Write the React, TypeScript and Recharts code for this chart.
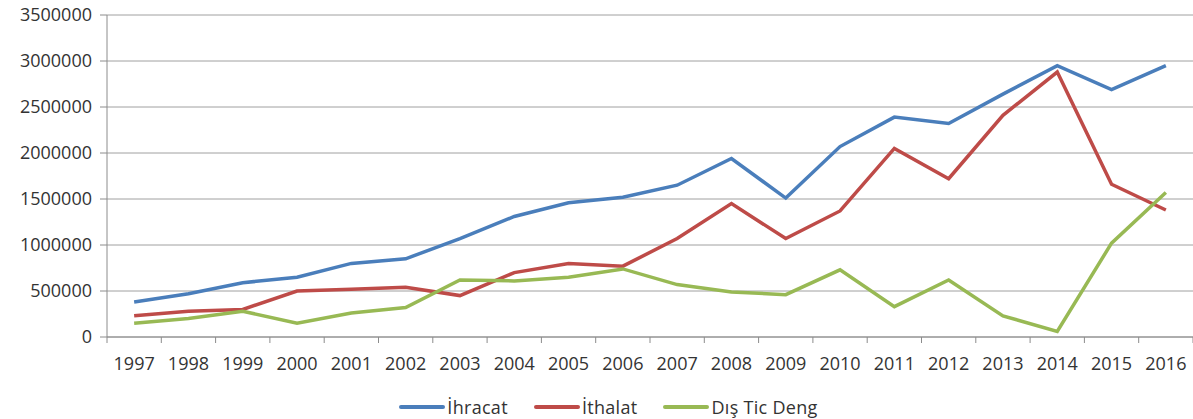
import { LineChart, Line, XAxis, YAxis, CartesianGrid, Legend } from "recharts";

const years = [
  "1997", "1998", "1999", "2000", "2001", "2002", "2003", "2004", "2005", "2006",
  "2007", "2008", "2009", "2010", "2011", "2012", "2013", "2014", "2015", "2016",
];

const ihracat = [
  380000, 470000, 590000, 650000, 800000, 850000, 1070000, 1310000, 1460000, 1520000,
  1650000, 1940000, 1510000, 2070000, 2390000, 2320000, 2640000, 2950000, 2690000, 2950000,
];

const ithalat = [
  230000, 280000, 300000, 500000, 520000, 540000, 450000, 700000, 800000, 770000,
  1070000, 1450000, 1070000, 1370000, 2050000, 1720000, 2410000, 2880000, 1660000, 1380000,
];

const disTicDeng = [
  150000, 200000, 280000, 150000, 260000, 320000, 620000, 610000, 650000, 740000,
  570000, 490000, 460000, 730000, 330000, 620000, 230000, 60000, 1020000, 1570000,
];

const yTicks = [0, 500000, 1000000, 1500000, 2000000, 2500000, 3000000, 3500000];

const series = [
  { key: "ihracat", name: "İhracat", color: "#4a7ebb" },
  { key: "ithalat", name: "İthalat", color: "#be4b48" },
  { key: "disTicDeng", name: "Dış Tic Deng", color: "#98b954" },
];

const data = years.map((year, i) => ({
  i,
  year,
  ihracat: ihracat[i],
  ithalat: ithalat[i],
  disTicDeng: disTicDeng[i],
}));

// ticks at category centres (labels) and boundaries (tick marks), like Excel
const xTicks: number[] = [];
for (let k = 0; k <= years.length * 2; k++) xTicks.push(k / 2 - 0.5);

const FONT = "'Open Sans', sans-serif";
const TEXT = "#333333";
const AXIS = "#8c8c8c";

function XTick(props: any) {
  const { x, y, payload } = props;
  const v = payload.value;
  if (Number.isInteger(v)) {
    return (
      <text x={x} y={y + 27} textAnchor="middle" fill={TEXT} fontSize={18} fontFamily={FONT}>
        {years[v]}
      </text>
    );
  }
  return <line x1={x} x2={x} y1={y - 6} y2={y} stroke={AXIS} strokeWidth={1} />;
}

function LegendContent() {
  return (
    <div
      style={{
        display: "flex",
        justifyContent: "center",
        alignItems: "center",
        height: 24,
        paddingLeft: 50,
        fontFamily: FONT,
        fontSize: 18,
        color: TEXT,
      }}
    >
      {series.map((s) => (
        <div key={s.key} style={{ display: "flex", alignItems: "center", marginRight: 26 }}>
          <svg width={46} height={8}>
            <line x1={2} x2={44} y1={4} y2={4} stroke={s.color} strokeWidth={4} strokeLinecap="round" />
          </svg>
          <span style={{ marginLeft: 2, letterSpacing: 0.3 }}>{s.name}</span>
        </div>
      ))}
    </div>
  );
}

export default function App() {
  return (
    <div style={{ position: "absolute", left: 0, top: 0, background: "#fff" }}>
      <LineChart width={1193} height={419} data={data} margin={{ top: 15, right: 0, bottom: 0, left: 0 }}>
        <CartesianGrid vertical={false} stroke="#a0a0a0" />
        <XAxis
          dataKey="i"
          type="number"
          domain={[-0.5, 19.5]}
          ticks={xTicks}
          interval={0}
          allowDecimals
          height={58}
          tickLine={false}
          tickSize={6}
          tickMargin={0}
          axisLine={{ stroke: AXIS }}
          tick={<XTick />}
        />
        <YAxis
          domain={[0, 3500000]}
          ticks={yTicks}
          interval={0}
          width={107}
          tickSize={7}
          tickMargin={8}
          axisLine={{ stroke: AXIS }}
          tickLine={{ stroke: AXIS }}
          tick={{ fill: TEXT, fontSize: 18, fontFamily: FONT }}
        />
        <Legend verticalAlign="bottom" height={24} content={<LegendContent />} />
        {series.map((s) => (
          <Line
            key={s.key}
            type="linear"
            dataKey={s.key}
            name={s.name}
            stroke={s.color}
            strokeWidth={3.5}
            dot={false}
            isAnimationActive={false}
          />
        ))}
      </LineChart>
    </div>
  );
}
